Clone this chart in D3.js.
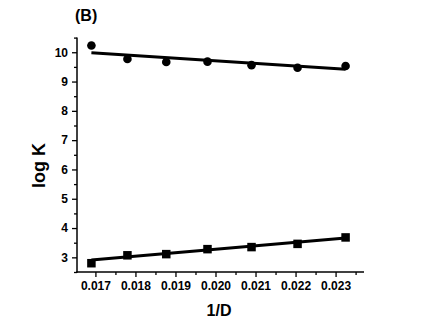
<!DOCTYPE html>
<html><head><meta charset="utf-8">
<script src="https://cdn.jsdelivr.net/npm/d3@7/dist/d3.min.js"></script>
<style>body{margin:0;background:#fff}svg{display:block}text{font-family:"Liberation Sans",Arial,sans-serif;font-weight:bold;fill:#000}</style>
</head><body>
<script>
const invD = [0.01690, 0.01780, 0.01877, 0.01980, 0.02090, 0.02205, 0.02325];
const logKCircle = [10.23, 9.77, 9.67, 9.68, 9.56, 9.47, 9.53];
const logKSquare = [2.80, 3.07, 3.11, 3.28, 3.35, 3.46, 3.68];
const fitX = [0.01690, 0.02325];
const fitCircle = [9.98, 9.42];
const fitSquare = [2.91, 3.66];
const xMajor = [0.017, 0.018, 0.019, 0.020, 0.021, 0.022, 0.023];
const xMinor = [0.0175, 0.0185, 0.0195, 0.0205, 0.0215, 0.0225, 0.0235];
const yMajor = [3, 4, 5, 6, 7, 8, 9, 10];
const yMinor = [2.5, 3.5, 4.5, 5.5, 6.5, 7.5, 8.5, 9.5, 10.5];

const W = 422, H = 326;
const svg = d3.select("body").append("svg").attr("width", W).attr("height", H);
const x = d3.scaleLinear().domain([0.01654, 0.02371]).range([77, 364]);
const y = d3.scaleLinear().domain([2.5, 10.5]).range([272, 37.6]);

// axes
svg.append("g").attr("transform", "translate(0,272)")
  .call(d3.axisBottom(x).tickValues(xMajor).tickSize(5).tickPadding(4).tickFormat(d3.format(".3f")));
svg.append("g").attr("transform", "translate(0,272)")
  .call(d3.axisBottom(x).tickValues(xMinor).tickSize(3).tickFormat(""));
svg.append("g").attr("transform", "translate(77,0)")
  .call(d3.axisLeft(y).tickValues(yMajor).tickSize(5).tickPadding(4).tickFormat(d3.format("d")));
svg.append("g").attr("transform", "translate(77,0)")
  .call(d3.axisLeft(y).tickValues(yMinor).tickSize(3).tickFormat(""));
svg.selectAll(".tick line").attr("stroke-width", 1.3);
svg.selectAll(".tick text").style("font-size", "12px").style("font-family", '"Liberation Sans",Arial,sans-serif').style("font-weight", "bold");
svg.selectAll(".domain").remove();
svg.append("line").attr("x1", 76.25).attr("x2", x.range()[1]).attr("y1", 272).attr("y2", 272).attr("stroke", "#000").attr("stroke-width", 1.5);
svg.append("line").attr("x1", 77).attr("x2", 77).attr("y1", y.range()[1]).attr("y2", 272.75).attr("stroke", "#000").attr("stroke-width", 1.5);

// fit lines
const line = d3.line().x(d => x(d[0])).y(d => y(d[1]));
svg.append("path").attr("d", line(fitX.map((v, i) => [v, fitCircle[i]])))
  .attr("fill", "none").attr("stroke", "#000").attr("stroke-width", 3);
svg.append("path").attr("d", line(fitX.map((v, i) => [v, fitSquare[i]])))
  .attr("fill", "none").attr("stroke", "#000").attr("stroke-width", 3);

// markers
svg.selectAll("circle.c").data(invD).enter().append("circle")
  .attr("cx", d => x(d)).attr("cy", (d, i) => y(logKCircle[i])).attr("r", 4.3).attr("fill", "#000");
const s = 8.5;
svg.selectAll("rect.s").data(invD).enter().append("rect")
  .attr("x", d => x(d) - s / 2).attr("y", (d, i) => y(logKSquare[i]) - s / 2)
  .attr("width", s).attr("height", s).attr("fill", "#000");

// labels
svg.append("text").attr("x", 219).attr("y", 316).attr("text-anchor", "middle").style("font-size", "16px").text("1/D");
svg.append("text").attr("transform", "translate(45,165.5) rotate(-90)").attr("text-anchor", "middle").style("font-size", "18px").text("log K");
svg.append("text").attr("x", 75).attr("y", 21).style("font-size", "16px").text("(B)");
</script>
</body></html>
